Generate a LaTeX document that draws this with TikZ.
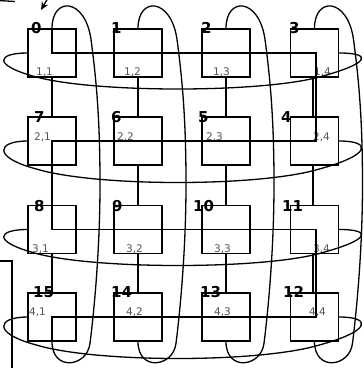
\documentclass[tikz,border=0pt]{standalone}
\usepackage{fontspec}
\setmainfont{DejaVu Sans}
\usepackage{tikz}
\usetikzlibrary{arrows.meta, positioning, calc}
\usepackage{xcolor}
\definecolor{pegray}{HTML}{555555}

\begin{document}
\begin{tikzpicture}[
  x=1pt, y=-1pt,
  pe/.style={draw, line width=1.3pt, minimum width=48pt,
    minimum height=48pt, inner sep=0pt},
  num/.style={anchor=base west, inner sep=0pt,
    font=\fontsize{15}{15}\selectfont\bfseries},
  meshpos/.style={anchor=base west, inner sep=0pt, text=pegray,
    font=\fontsize{10.5}{10.5}\selectfont},
  link/.style={line width=1.3pt},
  wrap/.style={line width=1.3pt}
]
  \useasboundingbox (0, 0) rectangle (364, 368);

  % Processors
  \node[pe] (b11) at (52, 53) {};
  \node[pe] (b12) at (138, 53) {};
  \node[pe] (b13) at (226, 53) {};
  \node[pe] (b14) at (314.5, 53) {};
  \node[pe] (b21) at (52, 141) {};
  \node[pe] (b22) at (138, 141) {};
  \node[pe] (b23) at (226, 141) {};
  \node[pe] (b24) at (314.5, 141) {};
  \node[pe] (b31) at (52, 229.5) {};
  \node[pe] (b32) at (138, 229.5) {};
  \node[pe] (b33) at (226, 229.5) {};
  \node[pe] (b34) at (314.5, 229.5) {};
  \node[pe] (b41) at (52, 317) {};
  \node[pe] (b42) at (138, 317) {};
  \node[pe] (b43) at (226, 317) {};
  \node[pe] (b44) at (314.5, 317) {};

  % Ring order
  \node[num] (n0) at (31, 33) {0};
  \node[num] (n1) at (111, 33) {1};
  \node[num] (n2) at (201, 33) {2};
  \node[num] (n3) at (289, 33) {3};
  \node[num] (n7) at (34, 122) {7};
  \node[num] (n6) at (111, 122) {6};
  \node[num] (n5) at (198, 122) {5};
  \node[num] (n4) at (281, 122) {4};
  \node[num] (n8) at (34, 211) {8};
  \node[num] (n9) at (112, 211) {9};
  \node[num] (n10) at (193, 211) {10};
  \node[num] (n11) at (282, 211) {11};
  \node[num] (n15) at (33, 297) {15};
  \node[num] (n14) at (111, 297) {14};
  \node[num] (n13) at (200, 297) {13};
  \node[num] (n12) at (283, 297) {12};

  % Mesh positions
  \node[meshpos] (p11) at (36, 75) {1,1};
  \node[meshpos] (p12) at (124, 75) {1,2};
  \node[meshpos] (p13) at (213, 75) {1,3};
  \node[meshpos] (p14) at (314, 75) {1,4};
  \node[meshpos] (p21) at (34, 140) {2,1};
  \node[meshpos] (p22) at (117, 140) {2,2};
  \node[meshpos] (p23) at (206, 140) {2,3};
  \node[meshpos] (p24) at (313, 140) {2,4};
  \node[meshpos] (p31) at (32, 252) {3,1};
  \node[meshpos] (p32) at (126, 252) {3,2};
  \node[meshpos] (p33) at (214, 252) {3,3};
  \node[meshpos] (p34) at (313, 252) {3,4};
  \node[meshpos] (p41) at (29, 315) {4,1};
  \node[meshpos] (p42) at (126, 315) {4,2};
  \node[meshpos] (p43) at (214, 315) {4,3};
  \node[meshpos] (p44) at (309, 315) {4,4};

  % Ring
  \draw[link] (b11.north) -- (b11.center) -- ([xshift=1.5pt]b14.center)
    -- ([xshift=1.5pt]b24.center) -- (b21.center) -- (b31.center)
    -- ([xshift=1.5pt]b34.center) -- ([xshift=1.5pt]b44.center)
    -- (b41.center) -- (b41.south);

  % Column links
  \draw[link] (b11.south) -- (b21.north) (b21.south) -- (b31.north)
    (b31.south) -- (b41.north);
  \draw[link] (b12.south) -- (b22.north) (b22.south) -- (b32.north)
    (b32.south) -- (b42.north);
  \draw[link] (b13.south) -- (b23.north) (b23.south) -- (b33.north)
    (b33.south) -- (b43.north);
  \draw[link] ([xshift=-1.5pt]b14.south) -- ([xshift=-1.5pt]b24.north)
    ([xshift=-1.5pt]b24.south) -- ([xshift=-1.5pt]b34.north)
    ([xshift=-1.5pt]b34.south) -- ([xshift=-1.5pt]b44.north);

  % Column wraparounds
  \draw[wrap] (b11.north) .. controls +(0,-32) and +(-6,-42) .. ++(39,11)
    .. controls +(6,45) and +(0,-60) .. ++(9,145)
    .. controls +(0,60) and +(5,-40) .. ++(-10,159)
    .. controls +(-3,24) and +(0,30) .. (b41.south);
  \draw[wrap] (b12.north) .. controls +(0,-32) and +(-6,-42) .. ++(39,11)
    .. controls +(6,45) and +(0,-60) .. ++(9,145)
    .. controls +(0,60) and +(5,-40) .. ++(-10,159)
    .. controls +(-3,24) and +(0,30) .. (b42.south);
  \draw[wrap] (b13.north) .. controls +(0,-32) and +(-6,-42) .. ++(39,11)
    .. controls +(6,45) and +(0,-60) .. ++(9,145)
    .. controls +(0,60) and +(5,-40) .. ++(-10,159)
    .. controls +(-3,24) and +(0,30) .. (b43.south);
  \draw[wrap] (b14.north) .. controls +(0,-32) and +(-6,-42) .. ++(39,11)
    .. controls +(6,45) and +(0,-60) .. ++(9,145)
    .. controls +(0,60) and +(5,-40) .. ++(-10,159)
    .. controls +(-3,24) and +(0,30) .. (b44.south);

  % Row wraparounds
  \draw[wrap] (b11.west) .. controls +(-30,0) and +(-45,-12) .. ++(9,24)
    .. controls +(60,16) and +(-60,16) .. ++(283,0)
    .. controls +(52,-14) and +(33,0) .. (b14.east);
  \draw[wrap] (b21.west) .. controls +(-30,0) and +(-45,-12) .. ++(9,28)
    .. controls +(60,18) and +(-60,18) .. ++(283,0)
    .. controls +(52,-14) and +(33,0) .. (b24.east);
  \draw[wrap] (b31.west) .. controls +(-30,0) and +(-45,-12) .. ++(9,24)
    .. controls +(60,16) and +(-60,16) .. ++(283,0)
    .. controls +(52,-14) and +(33,0) .. (b34.east);
  \draw[wrap] (b41.west) .. controls +(-30,0) and +(-45,-12) .. ++(9,28)
    .. controls +(60,18) and +(-60,18) .. ++(283,0)
    .. controls +(52,-14) and +(33,0) .. (b44.east);

  % Cut-off bits at the edge
  \coordinate (a1) at (48, -2);
  \coordinate (a2) at (41, 10);
  \draw[link, -{Stealth[length=8pt, width=7pt]}] (a1) -- (a2);
  \coordinate (f1) at (-2, 0.5);
  \coordinate (f2) at (15, 1.5);
  \draw[link] (f1) -- (f2);
  \coordinate (g1) at (-2, 261);
  \coordinate (g2) at (12, 261);
  \coordinate (g3) at (12, 372);
  \draw[link] (g1) -- (g2) -- (g3);
\end{tikzpicture}
\end{document}
